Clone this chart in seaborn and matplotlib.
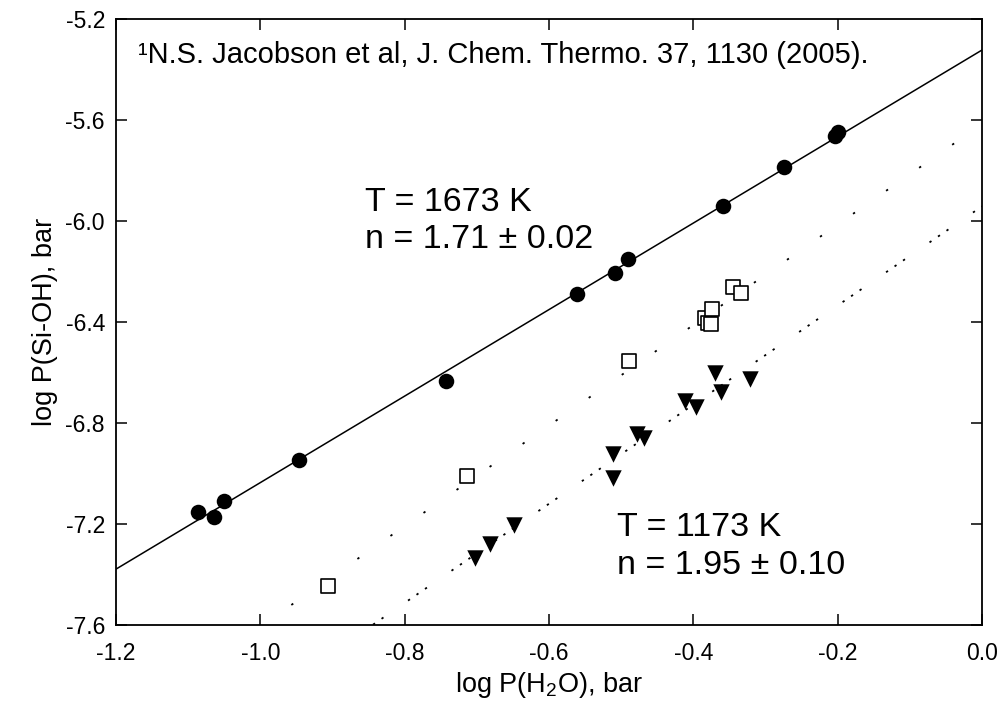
import numpy as np
import pandas as pd
import matplotlib
matplotlib.use("Agg")
import matplotlib.pyplot as plt
import seaborn as sns

# ---------------- data ----------------
# T = 1673 K (filled circles)
x_1673 = [-1.087, -1.064, -1.051, -0.947, -0.743, -0.561, -0.508, -0.490,
          -0.359, -0.274, -0.204, -0.200]
y_1673 = [-7.151, -7.174, -7.108, -6.947, -6.632, -6.290, -6.204, -6.150,
          -5.939, -5.787, -5.665, -5.648]
fit_1673 = (1.713, -5.323)          # slope, intercept

# T = 1173 K, open squares
x_sq = [-0.906, -0.713, -0.489, -0.384, -0.380, -0.376, -0.374, -0.345, -0.334]
y_sq = [-7.446, -7.010, -6.554, -6.383, -6.402, -6.406, -6.347, -6.260, -6.287]
fit_sq = (1.99, -5.616)

# T = 1173 K, filled down-triangles
x_tri = [-0.702, -0.682, -0.649, -0.511, -0.511, -0.478, -0.469, -0.411,
         -0.396, -0.370, -0.362, -0.321]
y_tri = [-7.335, -7.281, -7.205, -6.922, -7.018, -6.844, -6.861, -6.714,
         -6.738, -6.603, -6.677, -6.625]
fit_tri = (1.963, -5.942)

x_ticks = [-1.2, -1.0, -0.8, -0.6, -0.4, -0.2, 0.0]
y_ticks = [-7.6, -7.2, -6.8, -6.4, -6.0, -5.6, -5.2]

# ---------------- style ----------------
sns.set_theme(style="ticks")
plt.rcParams["font.family"] = ["Liberation Sans", "DejaVu Sans"]
plt.rcParams["mathtext.default"] = "regular"

fig = plt.figure(figsize=(10, 7.19), dpi=100)
ax = fig.add_axes([0.116, 0.1307, 0.866, 0.8429])

xs = np.array([-1.2, 0.0])

def fit_df(p):
    return pd.DataFrame({"x": xs, "y": p[0] * xs + p[1]})

# fit lines
sns.lineplot(data=fit_df(fit_1673), x="x", y="y", ax=ax, color="black",
             linewidth=1.1, zorder=2)
sns.lineplot(data=fit_df(fit_sq), x="x", y="y", ax=ax, color="black",
             linewidth=1.3, zorder=2)
ax.lines[-1].set_dashes((1.3, 21.0))
sns.lineplot(data=fit_df(fit_tri), x="x", y="y", ax=ax, color="black",
             linewidth=1.3, zorder=2)
ax.lines[-1].set_dashes((1.3, 4.4, 1.3, 4.4, 1.3, 16.5))

# markers
sns.scatterplot(x=x_1673, y=y_1673, ax=ax, marker="o", s=125, color="black",
                linewidth=0, zorder=3)
sns.scatterplot(x=x_sq, y=y_sq, ax=ax, marker="s", s=92, facecolor="white",
                edgecolor="black", linewidth=1.2, zorder=3)
sns.scatterplot(x=x_tri, y=y_tri, ax=ax, marker="v", s=140, color="black",
                linewidth=0, zorder=3)

ax.set_xlim(-1.2, 0.0)
ax.set_ylim(-7.6, -5.2)
ax.set_xticks(x_ticks)
ax.set_yticks(y_ticks)
ax.set_xticklabels([f"{v:.1f}" for v in x_ticks])
ax.set_yticklabels([f"{v:.1f}" for v in y_ticks])
ax.tick_params(direction="in", length=8, width=1.1, labelsize=16.5,
               top=True, right=True, color="black", labelcolor="black")
ax.tick_params(axis="x", pad=12)
ax.tick_params(axis="y", pad=8)
for s in ax.spines.values():
    s.set_visible(True)
    s.set_linewidth(1.3)
    s.set_color("black")

ax.set_xlabel("log P(H$_2$O), bar", fontsize=19.5, labelpad=4, color="black")
ax.set_ylabel("log P(Si-OH), bar", fontsize=19.5, labelpad=5, color="black")

# annotations
ax.text(-1.1695, -5.375, "¹N.S. Jacobson et al, J. Chem. Thermo. 37, 1130 (2005).",
        fontsize=21, ha="left", va="baseline", color="black")
ax.text(-0.855, -5.962, "T = 1673 K", fontsize=24.5, ha="left", va="baseline",
        color="black")
ax.text(-0.855, -6.105, "n = 1.71 ± 0.02", fontsize=24.5, ha="left",
        va="baseline", color="black")
ax.text(-0.506, -7.248, "T = 1173 K", fontsize=24.5, ha="left", va="baseline",
        color="black")
ax.text(-0.506, -7.397, "n = 1.95 ± 0.10", fontsize=24.5, ha="left",
        va="baseline", color="black")

if ax.get_legend() is not None:
    ax.get_legend().remove()

fig.savefig("out.png", dpi=100, facecolor="white")
